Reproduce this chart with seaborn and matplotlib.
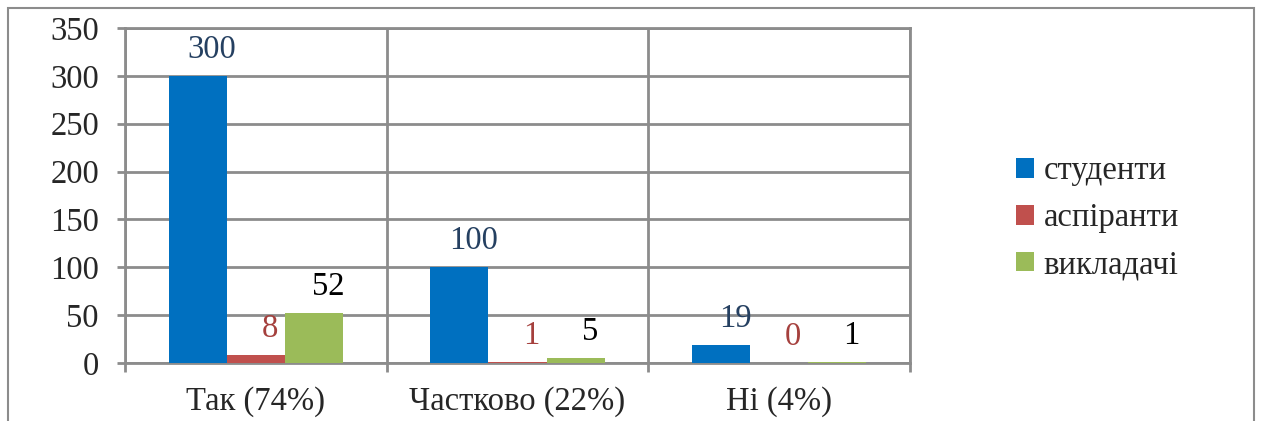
import pandas as pd
import seaborn as sns
import matplotlib.pyplot as plt
from matplotlib.patches import Rectangle

# answers and respondent groups
categories = ["Так (74%)", "Частково (22%)", "Ні (4%)"]
groups = ["студенти", "аспіранти", "викладачі"]
students = [300, 100, 19]
postgrads = [8, 1, 0]
teachers = [52, 5, 1]

bar_colors = ["#0070C0", "#C0504D", "#9BBB59"]
label_colors = ["#254061", "#A5403D", "#000000"]
grid_color = "#8C8C8C"


def build_frame():
    """Long format table for seaborn."""
    rows = []
    for grp, vals in zip(groups, [students, postgrads, teachers]):
        for cat, v in zip(categories, vals):
            rows.append([cat, grp, v])
    return pd.DataFrame(rows, columns=["Відповідь", "Група", "Кількість"])


def main():
    df = build_frame()

    sns.set_style("white")
    plt.rcParams["font.family"] = ["Liberation Serif", "DejaVu Serif"]
    fs = 23.5

    fig = plt.figure(figsize=(12.61, 4.21), dpi=100)
    ax = fig.add_axes([125 / 1261, 1 - 363 / 421, 785 / 1261, 335 / 421])

    sns.barplot(data=df, x="Відповідь", y="Кількість", hue="Група",
                palette=bar_colors, width=2 / 3, gap=0, saturation=1,
                linewidth=0, ax=ax, zorder=3)

    ax.set_xlim(-0.5, 2.5)
    ax.set_ylim(0, 350)
    ax.set_yticks(range(0, 351, 50))
    ax.set_xlabel("")
    ax.set_ylabel("")

    # gridlines: horizontal at y ticks, vertical at category boundaries
    ax.set_xticks([-0.5, 0.5, 1.5, 2.5], minor=True)
    ax.grid(True, axis="y", which="major", color=grid_color, lw=2, zorder=0)
    ax.grid(True, axis="x", which="minor", color=grid_color, lw=2, zorder=0)
    ax.tick_params(axis="y", length=8 * 0.72, width=2, color=grid_color,
                   pad=13, labelsize=fs, left=True)
    ax.tick_params(axis="x", which="major", length=0, pad=17, labelsize=fs)
    ax.tick_params(axis="x", which="minor", length=9 * 0.72, width=2,
                   color=grid_color, bottom=True)
    for sp in ax.spines.values():
        sp.set_color(grid_color)
        sp.set_linewidth(2)

    # data labels
    for cont, vals, col in zip(ax.containers, [students, postgrads, teachers], label_colors):
        for bar, v in zip(cont, vals):
            ax.annotate(str(v), (bar.get_x() + bar.get_width() / 2, bar.get_height()),
                        xytext=(14, 11), textcoords="offset pixels",
                        ha="center", va="bottom", color=col, fontsize=fs)

    handles, labels = ax.get_legend_handles_labels()
    ax.legend(handles, labels, loc="center left", bbox_to_anchor=(1016 / 1261, 1 - 218 / 421),
              bbox_transform=fig.transFigure, frameon=False, fontsize=fs,
              handlelength=0.55, handleheight=0.55, handletextpad=0.3,
              labelspacing=0.5, borderpad=0, borderaxespad=0)

    # outer border of the chart area
    fig.patches.append(Rectangle((8 / 1261, -0.1), 1246 / 1261, 1.1 - 8 / 421,
                                 transform=fig.transFigure, fill=False,
                                 edgecolor="#8C8C8C", lw=1.5))

    fig.savefig("out.png", dpi=100)


if __name__ == "__main__":
    main()
